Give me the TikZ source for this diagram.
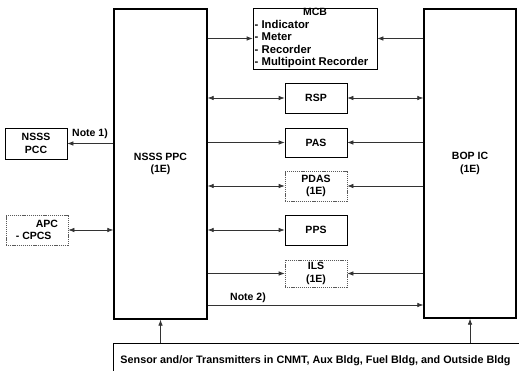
\documentclass[tikz,border=0pt]{standalone}
\usepackage{fontspec}
\setmainfont{Liberation Sans}
\usetikzlibrary{arrows.meta}
\begin{document}
\begin{tikzpicture}[x=1pt,y=-1pt,
  font=\bfseries\fontsize{10.5}{12.5}\selectfont,
  bigbox/.style={draw, line width=1.3pt, align=center, inner sep=0pt},
  smallbox/.style={draw, line width=0.7pt, minimum width=62pt, minimum height=30pt, align=center, inner sep=0pt},
  dashbox/.style={smallbox, draw=black!65, dash pattern=on 1.2pt off 0.9pt},
  conn/.style={line width=0.7pt, draw=black!80},
  tipend/.style={-{Latex[length=6pt,width=4.5pt]}},
  tipboth/.style={{Latex[length=6pt,width=4.5pt]}-{Latex[length=6pt,width=4.5pt]}},
  lbl/.style={inner sep=0pt, anchor=base west},
  mcbl/.style={lbl, font=\bfseries\fontsize{11.3}{13}\selectfont}
]
\useasboundingbox (0,0) rectangle (519,371);
\clip (0,0) rectangle (519,371);

% main boxes
\node[bigbox, minimum width=93pt, minimum height=310pt] (ppc) at (160.5,164) {NSSS PPC\\(1E)};
\node[bigbox, minimum width=92pt, minimum height=309pt] (bop) at (470,163.5) {BOP IC\\(1E)};

% MCB
\node[draw, line width=0.7pt, minimum width=124pt, minimum height=61pt, inner sep=0pt] (mcb) at (315,38.5) {};
\node[inner sep=0pt, anchor=base] (mcbt) at (315,16) {MCB};
\node[mcbl] (m1) at (254.5,29) {- Indicator};
\node[mcbl] (m2) at (254.5,41) {- Meter};
\node[mcbl] (m3) at (254.5,53.5) {- Recorder};
\node[mcbl] (m4) at (254.5,65.5) {- Multipoint Recorder};

% middle boxes
\node[smallbox] (rsp) at (316,98) {RSP};
\node[smallbox, minimum height=29pt] (pas) at (316,142.5) {PAS};
\node[dashbox] (pdas) at (316,186) {PDAS\\(1E)};
\node[smallbox] (pps) at (316,230) {PPS};
\node[dashbox, minimum height=27pt] (ils) at (316,273.5) {ILS\\(1E)};

% left boxes
\node[smallbox, minimum height=31pt] (pcc) at (36,143.5) {NSSS\\PCC};
\node[dashbox, align=left] (apc) at (37,230) {\hspace*{20pt}APC\\- CPCS};

% sensor box
\node[draw, line width=0.7pt, minimum width=434pt, minimum height=38pt, inner sep=0pt] (sensor) at (330,362) {};
\node[inner sep=0pt, font=\bfseries\fontsize{10.8}{12.5}\selectfont] (sensortxt) at (315.5,361) {Sensor and/or Transmitters in CNMT, Aux Bldg, Fuel Bldg, and Outside Bldg};

% connectors
\draw[conn,tipend] (ppc.east |- mcb.west) -- (mcb.west);
\draw[conn,tipend] (bop.west |- mcb.east) -- (mcb.east);

\draw[conn,tipboth] (ppc.east |- rsp.west) -- (rsp.west);
\draw[conn,tipboth] (rsp.east) -- (bop.west |- rsp.east);

\draw[conn,tipend] (ppc.east |- pas.west) -- (pas.west);
\draw[conn,tipend] (bop.west |- pas.east) -- (pas.east);

\draw[conn,tipboth] (ppc.east |- pdas.west) -- (pdas.west);
\draw[conn,tipend] (bop.west |- pdas.east) -- (pdas.east);

\draw[conn,tipboth] (ppc.east |- pps.west) -- (pps.west);

\draw[conn,tipend] (ppc.east |- ils.west) -- (ils.west);
\draw[conn,tipend] (bop.west |- ils.east) -- (ils.east);

\coordinate (n2) at (0,305);
\draw[conn,tipend] (ppc.east |- n2) -- (bop.west |- n2);
\node[lbl] (note2) at (230,300) {Note 2)};

\draw[conn,tipend] (ppc.west |- pcc.east) -- (pcc.east);
\node[lbl] (note1) at (72,137) {Note 1)};

\draw[conn,tipboth] (apc.east) -- (ppc.west |- apc.east);

\draw[conn,tipend] (sensor.north -| ppc.south) -- (ppc.south);
\draw[conn,tipend] (sensor.north -| bop.south) -- (bop.south);
\end{tikzpicture}
\end{document}
